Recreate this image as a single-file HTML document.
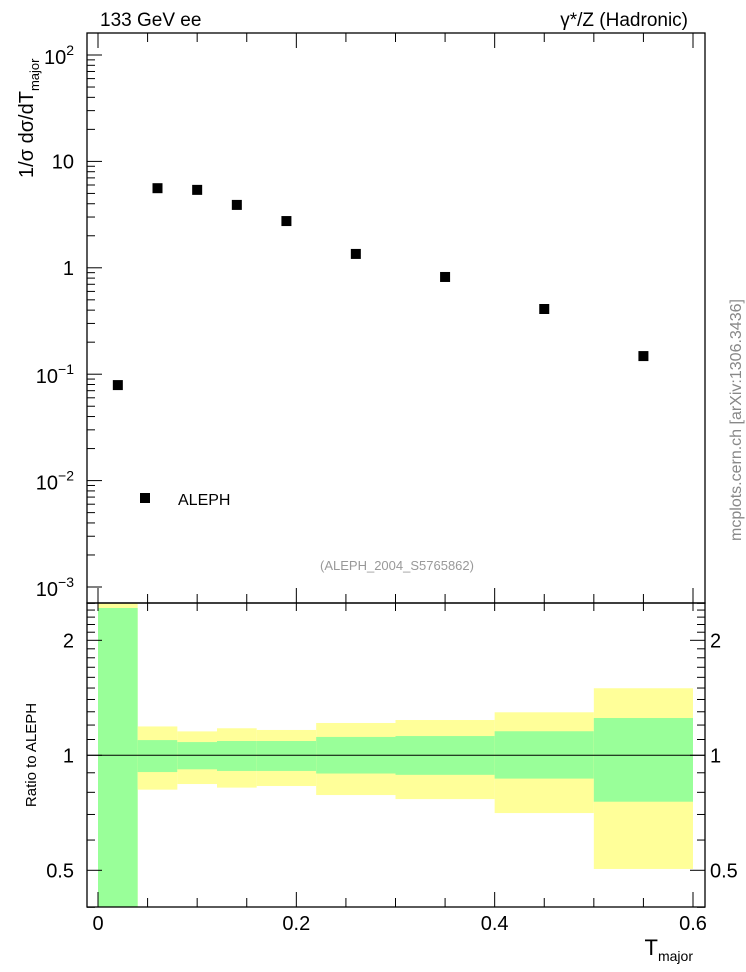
<!DOCTYPE html>
<html><head><meta charset="utf-8"><style>
html,body{margin:0;padding:0;background:#fff}
svg{display:block;font-family:"Liberation Sans",sans-serif}
</style></head><body>
<svg id="c" width="746" height="972" viewBox="0 0 746 972"></svg>
<script>
const binEdges=[0,0.04,0.08,0.12,0.16,0.22,0.30,0.40,0.50,0.60];
const xCenters=[0.02,0.06,0.10,0.14,0.19,0.26,0.35,0.45,0.55];
const yValues=[0.079,5.6,5.4,3.9,2.75,1.35,0.82,0.41,0.148];
const yellowHi=[2.6,1.19,1.155,1.177,1.165,1.215,1.237,1.296,1.498];
const yellowLo=[0.3,0.813,0.841,0.823,0.831,0.787,0.768,0.706,0.504];
const greenHi=[2.43,1.096,1.083,1.09,1.09,1.117,1.123,1.156,1.252];
const greenLo=[0.3,0.904,0.919,0.91,0.91,0.896,0.889,0.869,0.756];
const xTickLabels=["0","0.2","0.4","0.6"];
const xTickVals=[0,0.2,0.4,0.6];
const ratioTickVals=[0.5,1,2];
const ratioTickLabels=["0.5","1","2"];

const NS="http://www.w3.org/2000/svg";
const svg=document.getElementById('c');
function el(t,a,p){const e=document.createElementNS(NS,t);for(const k in a)e.setAttribute(k,a[k]);(p||svg).appendChild(e);return e;}
const L=87,R=705,T=33,M=603,B=907;
const X=v=>98+v*(595/0.6);
const Y=v=>55-(Math.log10(v)-2)*106.4;
const RY=v=>755.3-Math.log10(v)*382;

// ratio bands
const gBands=el('g',{});


for(let i=0;i<xCenters.length;i++){
  const x0=X(binEdges[i]),x1=X(binEdges[i+1]);
  const yt=Math.max(M,RY(yellowHi[i])),yb=Math.min(B,RY(yellowLo[i]));
  const r=el('rect',{x:x0,y:yt,width:x1-x0,height:yb-yt,fill:'#ffff99'},gBands);
  
  
  const gt=Math.max(M,RY(greenHi[i])),gb=Math.min(B,RY(greenLo[i]));
  const g=el('rect',{x:x0,y:gt,width:x1-x0,height:gb-gt,fill:'#99ff99'},gBands);
  
  
}
const one=el('line',{x1:L,x2:R,y1:RY(1),y2:RY(1),stroke:'#000','stroke-width':1});



// frames
const f1=el('rect',{x:L,y:T,width:R-L,height:M-T,fill:'none',stroke:'#000','stroke-width':1.3});


const f2=el('rect',{x:L,y:M,width:R-L,height:B-M,fill:'none',stroke:'#000','stroke-width':1.3});



// x ticks
for(let v=0;v<=0.6001;v+=0.05){
  const x=X(v);const maj=Math.abs(v*5-Math.round(v*5))<1e-6;const len=maj?15:9;
  for(const [y0,d] of [[T,1],[M,-1],[M,1],[B,-1]]){
    if(d===1&&y0===M&&!maj){el('line',{x1:x,x2:x,y1:M,y2:M+8,stroke:'#000'});continue;}
    el('line',{x1:x,x2:x,y1:y0,y2:y0+d*(y0===M&&d===1?8:len),stroke:'#000'});
  }
}
xTickVals.forEach((v,i)=>{
  const t=el('text',{x:X(v),y:930,'font-size':20,'text-anchor':'middle'});
  t.textContent=xTickLabels[i];
  
  
});
// main y ticks
for(let d=-3;d<=2;d++){
  for(let m=1;m<10;m++){
    const v=m*Math.pow(10,d);const y=Y(v);
    if(y<T||y>M)continue;
    const len=m===1?15:8;
    el('line',{x1:L,x2:L+len,y1:y,y2:y,stroke:'#000'});
  }
}
for(let m=1;m<10;m++){const y=Y(m*1000);if(y>=T)el('line',{x1:L,x2:L+8,y1:y,y2:y,stroke:'#000'});}
function powLabel(y,base,exp){
  const t=el('text',{x:74,y:y+7,'font-size':20,'text-anchor':'end'});
  if(exp===null){t.textContent=base;}
  else{t.textContent=base;const s=el('tspan',{dy:-9,'font-size':14},t);s.textContent=exp;}
  
  
}
powLabel(Y(100)+2,'10','2');
powLabel(Y(10),'10',null);
powLabel(Y(1),'1',null);
powLabel(Y(0.1)+2,'10','−1');
powLabel(Y(0.01)+2,'10','−2');
powLabel(Y(0.001)+2,'10','−3');
// ratio y ticks
for(const v of [0.4,0.5,0.6,0.7,0.8,0.9,1,1.1,1.2,1.3,1.4,1.5,1.6,1.7,1.8,1.9,2,2.1,2.2,2.3,2.4,2.5]){
  const y=RY(v);const maj=[0.5,1,2].includes(v);const len=maj?15:8;
  el('line',{x1:L,x2:L+len,y1:y,y2:y,stroke:'#000'});
  el('line',{x1:R,x2:R-len,y1:y,y2:y,stroke:'#000'});
}
ratioTickVals.forEach((v,i)=>{
  const a=el('text',{x:74,y:RY(v)+7,'font-size':20,'text-anchor':'end'});a.textContent=ratioTickLabels[i];
  
  
  const b=el('text',{x:710,y:RY(v)+7,'font-size':20,'text-anchor':'start'});b.textContent=ratioTickLabels[i];
  
  
});
// data points
yValues.forEach((v,i)=>{
  const r=el('rect',{x:X(xCenters[i])-5,y:Y(v)-5,width:10,height:10,fill:'#000'});
  
  
});
</script>
<svg width="746" height="972" style="position:absolute;left:0;top:0">
<text x="100" y="26" font-size="19" font-family="Liberation Sans">133 GeV ee</text>
<text x="688" y="26" font-size="19" font-family="Liberation Sans" text-anchor="end">γ*/Z (Hadronic)</text>
<text transform="translate(33,178) rotate(-90)" font-size="20" font-family="Liberation Sans">1/σ  dσ/dT<tspan font-size="13" dy="6">major</tspan></text>
<text transform="translate(36,755) rotate(-90)" font-size="15" font-family="Liberation Sans" text-anchor="middle">Ratio to ALEPH</text>
<text x="693" y="955" font-size="22" font-family="Liberation Sans" text-anchor="end">T<tspan font-size="14" dy="6">major</tspan></text>
<rect x="140" y="493" width="10" height="10" fill="#000"/>
<text x="178" y="505" font-size="16" font-family="Liberation Sans">ALEPH</text>
<text x="397" y="570" font-size="13" fill="#999" font-family="Liberation Sans" text-anchor="middle">(ALEPH_2004_S5765862)</text>
<text transform="translate(741,420) rotate(-90)" font-size="16" fill="#888" font-family="Liberation Sans" text-anchor="middle">mcplots.cern.ch [arXiv:1306.3436]</text>
</svg>
<style>body{position:relative}</style>
</body></html>
